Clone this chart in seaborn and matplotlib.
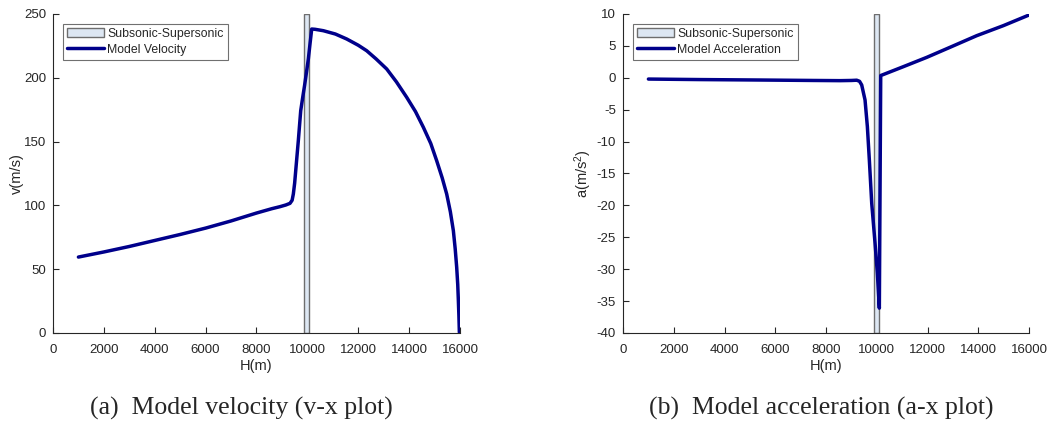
import numpy as np
import pandas as pd
import seaborn as sns
import matplotlib.pyplot as plt

# velocity curve
vel_h = [1000, 2000, 3000, 4000, 5000, 6000, 7000, 8000, 8600, 8924, 9150, 9317, 9400,
         9448, 9500, 9553, 9644, 9738, 9817, 9890, 9973, 10040, 10103, 10170, 10300,
         10626, 11100, 11545, 12000, 12331, 12700, 13118, 13500, 13904, 14250, 14559,
         14850, 15083, 15300, 15476, 15620, 15738, 15810, 15869, 15910, 15935, 15955, 15974]
vel_v = [59.5, 63.5, 67.8, 72.5, 77.2, 82.2, 87.8, 94.0, 97.4, 99.0, 100.3, 101.6, 104.0,
         108.9, 117.5, 129.8, 150.7, 174.2, 184.7, 194.0, 205.5, 215.0, 226.5, 238.2, 238.0,
         236.9, 234.3, 230.4, 225.5, 221.2, 214.8, 206.9, 196.8, 184.7, 173.5, 161.2,
         148.5, 135.0, 121.5, 108.9, 95.0, 80.2, 66.0, 51.5, 38.0, 25.3, 14.0, 0.5]

# acceleration curve
acc_h = [1000, 3000, 5400, 7500, 8552, 9000, 9209, 9320, 9406, 9537, 9629, 9707, 9801,
         9931, 10022, 10101, 10155, 11046, 11968, 12887, 13938, 14987, 16000]
acc_a = [-0.2, -0.28, -0.35, -0.42, -0.45, -0.42, -0.38, -0.55, -1.13, -3.48, -7.66,
         -12.9, -19.7, -25.9, -30.6, -36.1, 0.35, 1.74, 3.2, 4.78, 6.6, 8.17, 9.84]

band = (9880, 10077)

sns.set_style("white")
plt.rcParams["font.family"] = ["Liberation Sans", "DejaVu Sans"]
plt.rcParams["mathtext.fontset"] = "custom"
plt.rcParams["mathtext.rm"] = "Liberation Sans"
plt.rcParams["mathtext.it"] = "Liberation Sans"
plt.rcParams["axes.unicode_minus"] = False

line_color = "#00008b"
band_face = "#dde7f3"
band_edge = "#6e6e6e"
tick_col = "#262626"

fig = plt.figure(figsize=(10.51, 4.25), dpi=100)
ax1 = fig.add_axes([0.0504, 0.2165, 0.3873, 0.7506])
ax2 = fig.add_axes([0.5928, 0.2165, 0.3863, 0.7506])

vel = pd.DataFrame({"H": vel_h, "v": vel_v})
acc = pd.DataFrame({"H": acc_h, "a": acc_a})


def style(ax, ylim, yticks, ylabel):
    ax.set_xlim(0, 16000)
    ax.set_ylim(*ylim)
    ax.set_xticks(range(0, 16001, 2000))
    ax.set_yticks(yticks)
    ax.set_xlabel("H(m)", fontsize=10.5, color=tick_col)
    ax.set_ylabel(ylabel, fontsize=10.5, color=tick_col)
    ax.xaxis.set_label_coords(0.5, -0.08)
    ax.yaxis.set_label_coords(-0.072, 0.5)
    for s in ["top", "right"]:
        ax.spines[s].set_visible(False)
    for s in ["left", "bottom"]:
        ax.spines[s].set_color(tick_col)
        ax.spines[s].set_linewidth(0.8)
    ax.tick_params(direction="in", length=4, width=0.8, colors=tick_col,
                   labelsize=9.5, left=True, bottom=True)
    ax.tick_params(axis="x", pad=8)
    ax.tick_params(axis="y", pad=5)
    ax.legend(loc="upper left", fontsize=8.8, frameon=True, fancybox=False,
              edgecolor="#707070", framealpha=1, borderaxespad=0.8,
              handlelength=3.0, borderpad=0.35, labelspacing=0.3, handletextpad=0.3)
    ax.get_legend().get_frame().set_linewidth(0.8)


ax1.axvspan(band[0], band[1], facecolor=band_face, edgecolor=band_edge, lw=1,
            label="Subsonic-Supersonic", zorder=1)
sns.lineplot(data=vel, x="H", y="v", ax=ax1, color=line_color, lw=2.5,
             label="Model Velocity", sort=False, estimator=None, zorder=3)
style(ax1, (0, 250), range(0, 251, 50), "v(m/s)")

ax2.axvspan(band[0], band[1], facecolor=band_face, edgecolor=band_edge, lw=1,
            label="Subsonic-Supersonic", zorder=1)
sns.lineplot(data=acc, x="H", y="a", ax=ax2, color=line_color, lw=2.5,
             label="Model Acceleration", sort=False, estimator=None, zorder=3)
style(ax2, (-40, 10), range(-40, 11, 5), "a(m/s$^2$)")

cap_font = ["Liberation Serif", "DejaVu Serif"]
fig.text(0.2295, 0.038, "(a)  Model velocity (v-x plot)", ha="center", va="center",
         fontsize=18.5, family=cap_font)
fig.text(0.781, 0.038, "(b)  Model acceleration (a-x plot)", ha="center", va="center",
         fontsize=18.5, family=cap_font)

fig.savefig("out.png", dpi=100)
